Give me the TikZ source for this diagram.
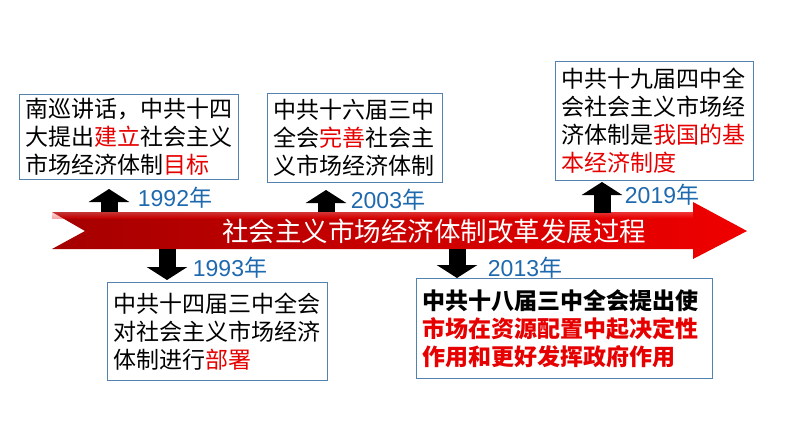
\documentclass[tikz,border=0pt]{standalone}
\usepackage{fontspec}
\setmainfont{Noto Sans CJK SC}
\newfontfamily\digitfont{Liberation Sans}
\usetikzlibrary{arrows.meta}
\definecolor{boxline}{RGB}{84,130,175}
\definecolor{yearblue}{RGB}{31,105,175}
\definecolor{txtred}{RGB}{230,0,0}
\definecolor{banddark}{RGB}{165,0,0}
\definecolor{bandlight}{RGB}{240,0,0}
\begin{document}
\begin{tikzpicture}[x=1pt,y=-1pt,
  infobox/.style={draw=boxline, line width=0.8pt, fill=white, anchor=north west,
    inner xsep=6pt, inner ysep=0pt, align=left, font=\fontsize{23}{28}\selectfont},
  yearlabel/.style={text=yearblue, font=\fontsize{23}{24}\selectfont, inner sep=0pt},
  blockarrow/.style={line width=17pt, -{Triangle[width=40pt,length=13pt]}, black}]
\useasboundingbox (0,0) rectangle (794,447);
\fill[white] (0,0) rectangle (794,447);
% band
\shade[left color=banddark, right color=bandlight]
  (52,212) -- (693,212) -- (693,202) -- (747,231) -- (693,259) -- (693,249)
  -- (52,249) -- (85,231) -- cycle;
\shade[top color=white!60!bandlight, bottom color=bandlight, opacity=0.35]
  (52,212) rectangle (693,218);
\node[text=white, font=\fontsize{26.5}{28}\selectfont, inner sep=0pt] (band) at (434,231)
  {社会主义市场经济体制改革发展过程};
% boxes
\node[infobox, minimum width=219pt, minimum height=85pt, text width=207pt] (b1992) at (19,94)
  {南巡讲话，中共十四\\大提出\textcolor{txtred}{建立}社会主义\\市场经济体制\textcolor{txtred}{目标}};
\node[infobox, minimum width=175pt, minimum height=89pt, text width=163pt] (b2003) at (267,93)
  {中共十六届三中\\全会\textcolor{txtred}{完善}社会主\\义市场经济体制};
\node[infobox, minimum width=198pt, minimum height=119pt, text width=186pt] (b2019) at (555,61)
  {中共十九届四中全\\会社会主义市场经\\济体制是\textcolor{txtred}{我国的基}\\\textcolor{txtred}{本经济制度}};
\node[infobox, minimum width=220pt, minimum height=98pt, text width=208pt] (b1993) at (107,282)
  {中共十四届三中全会\\对社会主义市场经济\\体制进行\textcolor{txtred}{部署}};
\node[infobox, minimum width=296pt, minimum height=100pt, text width=284pt] (b2013) at (416,278)
  {\bfseries 中共十八届三中全会提出使\\\bfseries\textcolor{txtred}{市场在资源配置中起决定性}\\\bfseries\textcolor{txtred}{作用和更好发挥政府作用}};
% arrow coordinates
\coordinate (s1992) at (109,212); \coordinate (e1992) at (109,189);
\coordinate (s2003) at (326,212); \coordinate (e2003) at (326,190);
\coordinate (s2019) at (602,213); \coordinate (e2019) at (602,182);
\coordinate (s1993) at (167,249); \coordinate (e1993) at (167,280);
\coordinate (s2013) at (457,249); \coordinate (e2013) at (457,278);
\draw[blockarrow] (s1992) -- (e1992);
\draw[blockarrow] (s2003) -- (e2003);
\draw[blockarrow] (s2019) -- (e2019);
\draw[blockarrow] (s1993) -- (e1993);
\draw[blockarrow] (s2013) -- (e2013);
% years
\node[yearlabel] (y1992) at (175,198) {{\digitfont 1992}年};
\node[yearlabel] (y2003) at (388,200) {{\digitfont 2003}年};
\node[yearlabel] (y2019) at (662,195) {{\digitfont 2019}年};
\node[yearlabel] (y1993) at (230,268) {{\digitfont 1993}年};
\node[yearlabel] (y2013) at (525,268) {{\digitfont 2013}年};
\end{tikzpicture}
\end{document}
